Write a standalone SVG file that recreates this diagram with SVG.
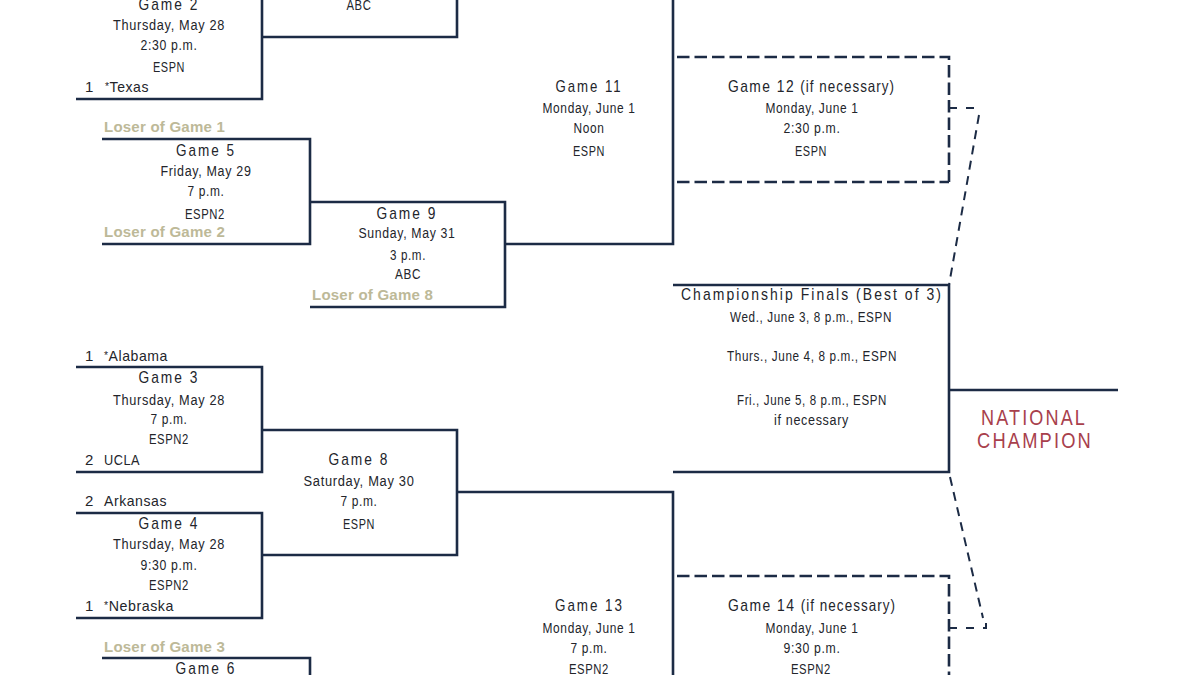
<svg xmlns="http://www.w3.org/2000/svg" width="1200" height="675" viewBox="0 0 1200 675">
<style>
text{font-family:"Liberation Sans",Arial,sans-serif;fill:#23252b}
.h{font-size:17px;letter-spacing:2.5px;text-anchor:middle}
.d{font-size:14px;letter-spacing:.75px;text-anchor:middle}
.t{font-size:15px;letter-spacing:.6px}
.m{text-anchor:middle}
.g{font-size:17px;letter-spacing:1.8px}
.p{font-size:16.5px;letter-spacing:1.25px}
.a{font-size:11px;baseline-shift:2px}
.l{font-size:14.6px;font-weight:bold;fill:#bdb998;letter-spacing:.2px}
.n{font-size:22px;letter-spacing:2.6px;fill:#a8404c;text-anchor:middle}
.s{fill:none;stroke:#1c2b45;stroke-width:2.6}
.x{fill:none;stroke:#1c2b45;stroke-width:2.6;stroke-dasharray:12.5 5}
.y{fill:none;stroke:#1c2b45;stroke-width:2;stroke-dasharray:9 6.500}
.z{fill:none;stroke:#1c2b45;stroke-width:2;stroke-dasharray:8 9}
</style>
<rect width="1200" height="675" fill="#fff"/>
<g id="connectors">
<path class="s" d="M76 99H262V-5M262 37H457V-5"/>
<path class="s" d="M102 139H310V244H102M310 202H505V307H310M505 244H673V-5"/>
<path class="s" d="M673 285H949V472H673M949 390H1118"/>
<path class="s" d="M76 367H262V472H76M262 430H457V555H262M76 513H262V618H76M457 492H673V680"/>
<path class="s" d="M102 658H310V680"/>
<path class="x" d="M677 57H949V182"/>
<path class="x" d="M677 182H949"/>
<path class="x" d="M677 576H949V680"/>
<path class="z" d="M949 108H975"/>
<path class="y" d="M979 115L949 285"/>
<path class="z" d="M949 628H986V620"/>
<path class="y" d="M950 477L983 618"/>
</g>
<g id="game2"><text class="h" textLength="61" lengthAdjust="spacingAndGlyphs" x="169" y="10">Game 2</text><text class="d" textLength="112" lengthAdjust="spacingAndGlyphs" x="169" y="30">Thursday, May 28</text><text class="d" textLength="57" lengthAdjust="spacingAndGlyphs" x="169" y="50">2:30 p.m.</text><text class="d" textLength="32" lengthAdjust="spacingAndGlyphs" x="169" y="72">ESPN</text><text class="t" x="85" y="92">1</text><text class="t" textLength="44" lengthAdjust="spacingAndGlyphs" x="105" y="92"><tspan class="a">*</tspan>Texas</text></g>
<g id="game-top"><text class="d" textLength="25" lengthAdjust="spacingAndGlyphs" x="359" y="10">ABC</text></g>
<g id="game5"><text class="l" textLength="121" lengthAdjust="spacingAndGlyphs" x="104" y="132">Loser of Game 1</text><text class="h" textLength="60" lengthAdjust="spacingAndGlyphs" x="206" y="155.500">Game 5</text><text class="d" textLength="91" lengthAdjust="spacingAndGlyphs" x="206" y="176">Friday, May 29</text><text class="d" textLength="37" lengthAdjust="spacingAndGlyphs" x="206" y="196">7 p.m.</text><text class="d" textLength="40" lengthAdjust="spacingAndGlyphs" x="205" y="219">ESPN2</text><text class="l" textLength="121" lengthAdjust="spacingAndGlyphs" x="104" y="237">Loser of Game 2</text></g>
<g id="game9"><text class="h" textLength="61" lengthAdjust="spacingAndGlyphs" x="407" y="219">Game 9</text><text class="d" textLength="97" lengthAdjust="spacingAndGlyphs" x="407" y="238">Sunday, May 31</text><text class="d" textLength="36" lengthAdjust="spacingAndGlyphs" x="408" y="260">3 p.m.</text><text class="d" textLength="26" lengthAdjust="spacingAndGlyphs" x="408" y="279">ABC</text><text class="l" textLength="121" lengthAdjust="spacingAndGlyphs" x="312" y="300">Loser of Game 8</text></g>
<g id="game11"><text class="h" textLength="67" lengthAdjust="spacingAndGlyphs" x="589" y="92">Game 11</text><text class="d" textLength="93" lengthAdjust="spacingAndGlyphs" x="589" y="113">Monday, June 1</text><text class="d" textLength="31" lengthAdjust="spacingAndGlyphs" x="589" y="133">Noon</text><text class="d" textLength="32" lengthAdjust="spacingAndGlyphs" x="589" y="156">ESPN</text></g>
<g id="game12"><text class="m" textLength="167" lengthAdjust="spacingAndGlyphs" x="811.500" y="92"><tspan class="g">Game 12 </tspan><tspan class="p">(if necessary)</tspan></text><text class="d" textLength="93" lengthAdjust="spacingAndGlyphs" x="812" y="113">Monday, June 1</text><text class="d" textLength="57" lengthAdjust="spacingAndGlyphs" x="812" y="133">2:30 p.m.</text><text class="d" textLength="32" lengthAdjust="spacingAndGlyphs" x="811" y="156">ESPN</text></g>
<g id="finals"><text class="h" textLength="262" lengthAdjust="spacingAndGlyphs" x="812" y="300">Championship Finals (Best of 3)</text><text class="d" textLength="162" lengthAdjust="spacingAndGlyphs" x="811" y="322">Wed., June 3, 8 p.m., ESPN</text><text class="d" textLength="170" lengthAdjust="spacingAndGlyphs" x="812" y="361">Thurs., June 4, 8 p.m., ESPN</text><text class="d" textLength="150" lengthAdjust="spacingAndGlyphs" x="812" y="405">Fri., June 5, 8 p.m., ESPN</text><text class="d" textLength="75" lengthAdjust="spacingAndGlyphs" x="811.500" y="425">if necessary</text></g>
<g id="champion"><text class="n" textLength="106" lengthAdjust="spacingAndGlyphs" x="1034" y="425">NATIONAL</text><text class="n" textLength="116" lengthAdjust="spacingAndGlyphs" x="1035" y="448">CHAMPION</text></g>
<g id="game3"><text class="t" x="85" y="361">1</text><text class="t" textLength="64" lengthAdjust="spacingAndGlyphs" x="104" y="361"><tspan class="a">*</tspan>Alabama</text><text class="h" textLength="61" lengthAdjust="spacingAndGlyphs" x="169" y="383">Game 3</text><text class="d" textLength="112" lengthAdjust="spacingAndGlyphs" x="169" y="405">Thursday, May 28</text><text class="d" textLength="37" lengthAdjust="spacingAndGlyphs" x="169" y="424">7 p.m.</text><text class="d" textLength="40" lengthAdjust="spacingAndGlyphs" x="169" y="444">ESPN2</text><text class="t" x="85" y="465">2</text><text class="t" textLength="36" lengthAdjust="spacingAndGlyphs" x="104" y="465">UCLA</text></g>
<g id="game8"><text class="h" textLength="61" lengthAdjust="spacingAndGlyphs" x="359" y="465">Game 8</text><text class="d" textLength="111" lengthAdjust="spacingAndGlyphs" x="359" y="486">Saturday, May 30</text><text class="d" textLength="37" lengthAdjust="spacingAndGlyphs" x="359" y="506">7 p.m.</text><text class="d" textLength="32" lengthAdjust="spacingAndGlyphs" x="359" y="529">ESPN</text></g>
<g id="game4"><text class="t" x="85" y="506">2</text><text class="t" textLength="63" lengthAdjust="spacingAndGlyphs" x="104" y="506">Arkansas</text><text class="h" textLength="61" lengthAdjust="spacingAndGlyphs" x="169" y="529">Game 4</text><text class="d" textLength="112" lengthAdjust="spacingAndGlyphs" x="169" y="549">Thursday, May 28</text><text class="d" textLength="57" lengthAdjust="spacingAndGlyphs" x="169" y="570">9:30 p.m.</text><text class="d" textLength="40" lengthAdjust="spacingAndGlyphs" x="169" y="590">ESPN2</text><text class="t" x="85" y="611">1</text><text class="t" textLength="70" lengthAdjust="spacingAndGlyphs" x="104" y="611"><tspan class="a">*</tspan>Nebraska</text></g>
<g id="game13"><text class="h" textLength="69" lengthAdjust="spacingAndGlyphs" x="589.500" y="611">Game 13</text><text class="d" textLength="93" lengthAdjust="spacingAndGlyphs" x="589" y="633">Monday, June 1</text><text class="d" textLength="37" lengthAdjust="spacingAndGlyphs" x="589" y="653">7 p.m.</text><text class="d" textLength="40" lengthAdjust="spacingAndGlyphs" x="589" y="674">ESPN2</text></g>
<g id="game14"><text class="m" textLength="168" lengthAdjust="spacingAndGlyphs" x="812" y="611"><tspan class="g">Game 14 </tspan><tspan class="p">(if necessary)</tspan></text><text class="d" textLength="93" lengthAdjust="spacingAndGlyphs" x="812" y="633">Monday, June 1</text><text class="d" textLength="57" lengthAdjust="spacingAndGlyphs" x="812" y="653">9:30 p.m.</text><text class="d" textLength="40" lengthAdjust="spacingAndGlyphs" x="811" y="674">ESPN2</text></g>
<g id="game6"><text class="l" textLength="121" lengthAdjust="spacingAndGlyphs" x="104" y="652">Loser of Game 3</text><text class="h" textLength="61" lengthAdjust="spacingAndGlyphs" x="206" y="674">Game 6</text></g>
</svg>
